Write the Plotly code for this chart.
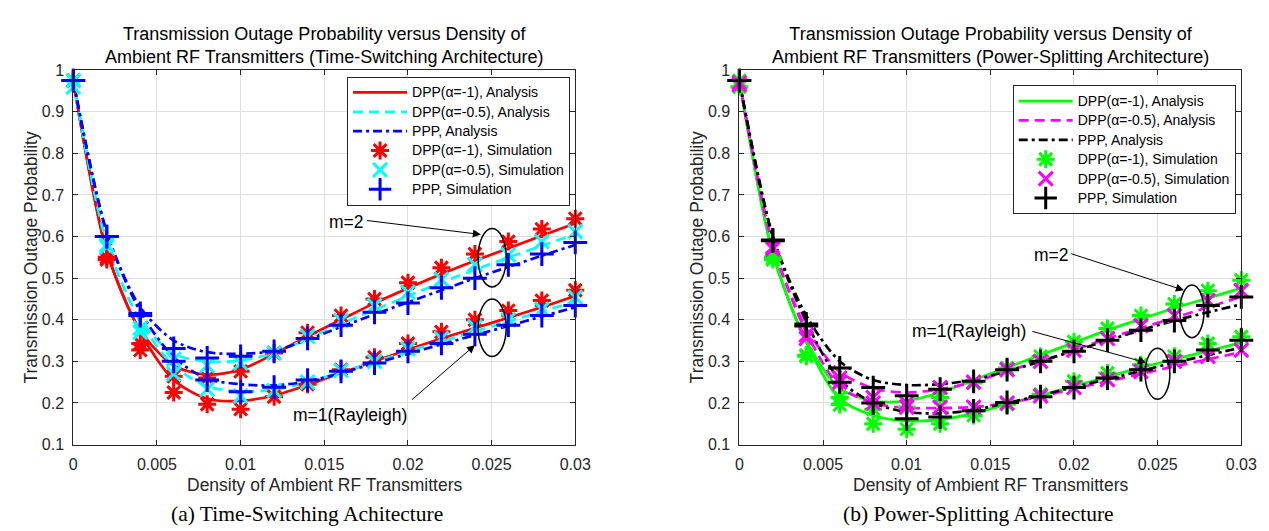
import plotly.graph_objects as go

# ---------------- data ----------------
density = [0.0, 0.002, 0.004, 0.006, 0.008, 0.010, 0.012, 0.014, 0.016,
           0.018, 0.020, 0.022, 0.024, 0.026, 0.028, 0.030]

x_ticks = [0, 0.005, 0.01, 0.015, 0.02, 0.025, 0.03]
x_tick_labels = ["0", "0.005", "0.01", "0.015", "0.02", "0.025", "0.03"]
y_ticks = [0.1, 0.2, 0.3, 0.4, 0.5, 0.6, 0.7, 0.8, 0.9, 1.0]
y_tick_labels = ["0.1", "0.2", "0.3", "0.4", "0.5", "0.6", "0.7", "0.8", "0.9", "1"]

# (a) Time-switching: analysis
ts_dpp1_ana_m2 = [0.975, 0.565, 0.375, 0.29, 0.268, 0.28, 0.318, 0.36, 0.40, 0.44, 0.476, 0.51, 0.542, 0.572, 0.602, 0.632]
ts_dpp1_ana_m1 = [0.975, 0.565, 0.37, 0.255, 0.21, 0.205, 0.218, 0.243, 0.272, 0.30, 0.328, 0.355, 0.38, 0.405, 0.43, 0.457]
ts_dpp05_ana_m2 = [0.975, 0.585, 0.40, 0.318, 0.30, 0.302, 0.32, 0.355, 0.39, 0.424, 0.457, 0.49, 0.52, 0.55, 0.578, 0.606]
ts_dpp05_ana_m1 = [0.975, 0.585, 0.395, 0.29, 0.24, 0.228, 0.232, 0.25, 0.274, 0.298, 0.324, 0.348, 0.372, 0.396, 0.42, 0.444]
ts_ppp_ana_m2 = [0.975, 0.61, 0.43, 0.35, 0.322, 0.318, 0.325, 0.352, 0.383, 0.413, 0.442, 0.471, 0.50, 0.527, 0.554, 0.58]
ts_ppp_ana_m1 = [0.975, 0.61, 0.42, 0.31, 0.258, 0.245, 0.242, 0.252, 0.272, 0.295, 0.318, 0.341, 0.363, 0.385, 0.408, 0.43]
# (a) Time-switching: simulation
ts_dpp1_sim_m2 = [0.975, 0.55, 0.343, 0.264, 0.26, 0.276, 0.32, 0.369, 0.41, 0.45, 0.489, 0.525, 0.558, 0.588, 0.618, 0.643]
ts_dpp1_sim_m1 = [0.975, 0.545, 0.327, 0.225, 0.197, 0.185, 0.215, 0.245, 0.28, 0.31, 0.343, 0.371, 0.40, 0.422, 0.446, 0.471]
ts_dpp05_sim_m2 = [0.975, 0.58, 0.38, 0.305, 0.29, 0.296, 0.32, 0.36, 0.398, 0.434, 0.466, 0.497, 0.533, 0.556, 0.588, 0.612]
ts_dpp05_sim_m1 = [0.96, 0.575, 0.37, 0.27, 0.233, 0.217, 0.23, 0.25, 0.278, 0.30, 0.33, 0.355, 0.383, 0.40, 0.425, 0.454]
ts_ppp_sim_m2 = [0.975, 0.60, 0.415, 0.331, 0.308, 0.312, 0.324, 0.355, 0.387, 0.418, 0.44, 0.477, 0.50, 0.532, 0.558, 0.586]
ts_ppp_sim_m1 = [0.975, 0.60, 0.41, 0.30, 0.255, 0.227, 0.238, 0.255, 0.276, 0.296, 0.324, 0.343, 0.365, 0.387, 0.41, 0.434]

# (b) Power-splitting: analysis
ps_dpp1_ana_m2 = [0.975, 0.56, 0.35, 0.235, 0.205, 0.205, 0.225, 0.255, 0.285, 0.315, 0.345, 0.375, 0.402, 0.428, 0.452, 0.476]
ps_dpp1_ana_m1 = [0.975, 0.56, 0.345, 0.21, 0.17, 0.157, 0.16, 0.175, 0.197, 0.218, 0.24, 0.263, 0.285, 0.305, 0.325, 0.345]
ps_dpp05_ana_m2 = [0.975, 0.58, 0.38, 0.275, 0.235, 0.225, 0.233, 0.25, 0.277, 0.30, 0.327, 0.355, 0.38, 0.405, 0.43, 0.455]
ps_dpp05_ana_m1 = [0.975, 0.58, 0.37, 0.24, 0.20, 0.188, 0.188, 0.19, 0.20, 0.215, 0.234, 0.252, 0.27, 0.288, 0.305, 0.322]
ps_ppp_ana_m2 = [0.975, 0.60, 0.41, 0.30, 0.255, 0.243, 0.245, 0.256, 0.276, 0.30, 0.325, 0.35, 0.375, 0.398, 0.418, 0.437]
ps_ppp_ana_m1 = [0.975, 0.60, 0.395, 0.255, 0.20, 0.178, 0.175, 0.183, 0.20, 0.218, 0.238, 0.257, 0.277, 0.297, 0.315, 0.333]
# (b) Power-splitting: simulation
ps_dpp1_sim_m2 = [0.975, 0.55, 0.315, 0.213, 0.185, 0.19, 0.213, 0.248, 0.284, 0.312, 0.347, 0.379, 0.41, 0.438, 0.47, 0.495]
ps_dpp1_sim_m1 = [0.96, 0.545, 0.312, 0.196, 0.15, 0.137, 0.15, 0.17, 0.197, 0.221, 0.252, 0.272, 0.292, 0.312, 0.343, 0.359]
ps_dpp05_sim_m2 = [0.97, 0.575, 0.363, 0.26, 0.213, 0.20, 0.237, 0.25, 0.28, 0.30, 0.327, 0.355, 0.386, 0.41, 0.446, 0.47]
ps_dpp05_sim_m1 = [0.965, 0.57, 0.355, 0.25, 0.20, 0.19, 0.19, 0.19, 0.20, 0.217, 0.237, 0.256, 0.276, 0.30, 0.312, 0.327]
ps_ppp_sim_m2 = [0.975, 0.592, 0.39, 0.284, 0.237, 0.217, 0.233, 0.252, 0.28, 0.30, 0.324, 0.351, 0.375, 0.398, 0.434, 0.455]
ps_ppp_sim_m1 = [0.975, 0.59, 0.385, 0.25, 0.20, 0.162, 0.166, 0.181, 0.201, 0.215, 0.237, 0.26, 0.28, 0.30, 0.327, 0.351]

legend_names = ["DPP(α=-1), Analysis", "DPP(α=-0.5), Analysis", "PPP, Analysis",
                "DPP(α=-1), Simulation", "DPP(α=-0.5), Simulation", "PPP, Simulation"]

# ---------------- styling ----------------
FONT = "Liberation Sans, Arial, Helvetica, sans-serif"
AX_COLOR = "#262626"
W, H = 1269, 531

# pixel layout of the two axes boxes
L_X0, L_X1 = 62.3, 572.3
R_X0, R_X1 = 739.0, 1249.0
Y_TOP, Y_BOT = 56.0, 442.7


def px(xp):
    return xp / W


def py(yp):
    return 1 - yp / H


def leg_text(s):
    # larger glyphs than the (compact) legend row height
    return f'<span style="font-size:14px">{s}</span>'


fig = go.Figure()

panels = [
    dict(xa="x", ya="y", legend="legend",
         colors=["#FF0000", "#00FFFF", "#0000FF"],
         ana=[(ts_dpp1_ana_m2, ts_dpp1_ana_m1), (ts_dpp05_ana_m2, ts_dpp05_ana_m1), (ts_ppp_ana_m2, ts_ppp_ana_m1)],
         sim=[(ts_dpp1_sim_m2, ts_dpp1_sim_m1), (ts_dpp05_sim_m2, ts_dpp05_sim_m1), (ts_ppp_sim_m2, ts_ppp_sim_m1)]),
    dict(xa="x2", ya="y2", legend="legend2",
         colors=["#00FF00", "#FF00FF", "#000000"],
         ana=[(ps_dpp1_ana_m2, ps_dpp1_ana_m1), (ps_dpp05_ana_m2, ps_dpp05_ana_m1), (ps_ppp_ana_m2, ps_ppp_ana_m1)],
         sim=[(ps_dpp1_sim_m2, ps_dpp1_sim_m1), (ps_dpp05_sim_m2, ps_dpp05_sim_m1), (ps_ppp_sim_m2, ps_ppp_sim_m1)]),
]

dashes = ["solid", "10px,6px", "9px,4px,3px,4px"]
symbols = ["asterisk-open", "x-thin-open", "cross-thin-open"]
msizes = [15, 14, 17]

for p_i, p in enumerate(panels):
    # analysis lines
    for k in range(3):
        for j, ys in enumerate(p["ana"][k]):
            fig.add_trace(go.Scatter(
                x=density, y=ys, mode="lines", xaxis=p["xa"], yaxis=p["ya"],
                line=dict(color=p["colors"][k], width=2.7, dash=dashes[k], shape="spline", smoothing=0.8),
                name=leg_text(legend_names[k]), legendgroup=f"p{p_i}a{k}", showlegend=(j == 0),
                legend=p["legend"], legendrank=k + 1, hoverinfo="skip"))
    # simulation markers
    for k in range(3):
        for j, ys in enumerate(p["sim"][k]):
            fig.add_trace(go.Scatter(
                x=density, y=ys, mode="markers", xaxis=p["xa"], yaxis=p["ya"],
                marker=dict(symbol=symbols[k], size=msizes[k], color=p["colors"][k],
                            line=dict(color=p["colors"][k], width=3)),
                name=leg_text(legend_names[3 + k]), legendgroup=f"p{p_i}s{k}", showlegend=(j == 0),
                legend=p["legend"], legendrank=4 + k, cliponaxis=False, hoverinfo="skip"))

axis_common = dict(showline=True, linecolor=AX_COLOR, linewidth=1, mirror="ticks",
                   ticks="inside", ticklen=5, tickcolor=AX_COLOR, showgrid=True,
                   gridcolor="#dedede", gridwidth=1, zeroline=False,
                   tickfont=dict(family=FONT, size=16, color=AX_COLOR), ticklabelstandoff=5)

legend_common = dict(xanchor="right", yanchor="top", bgcolor="white",
                     bordercolor=AX_COLOR, borderwidth=1, itemwidth=54, tracegroupgap=0,
                     font=dict(family=FONT, size=12.6, color="black"))

fig.update_layout(
    width=W, height=H, margin=dict(l=0, r=0, t=0, b=0),
    paper_bgcolor="white", plot_bgcolor="white",
    font=dict(family=FONT, color=AX_COLOR),
    xaxis=dict(domain=[px(L_X0), px(L_X1)], range=[0, 0.03], tickvals=x_ticks, ticktext=x_tick_labels, anchor="y", **axis_common),
    yaxis=dict(domain=[py(Y_BOT), py(Y_TOP)], range=[0.1, 1.0], tickvals=y_ticks, ticktext=y_tick_labels, anchor="x", **axis_common),
    xaxis2=dict(domain=[px(R_X0), px(R_X1)], range=[0, 0.03], tickvals=x_ticks, ticktext=x_tick_labels, anchor="y2", **axis_common),
    yaxis2=dict(domain=[py(Y_BOT), py(Y_TOP)], range=[0.1, 1.0], tickvals=y_ticks, ticktext=y_tick_labels, anchor="x2", **axis_common),
    legend=dict(x=px(567), y=py(62.7), **legend_common),
    legend2=dict(x=px(1243.3), y=py(71.7), **legend_common),
)

annotations = []
titles = [
    ("Transmission Outage Probability versus Density of<br>Ambient RF Transmitters (Time-Switching Architecture)", (L_X0 + L_X1) / 2),
    ("Transmission Outage Probability versus Density of<br>Ambient RF Transmitters (Power-Splitting Architecture)", (R_X0 + R_X1) / 2),
]
for t, cx in titles:
    annotations.append(dict(text=t, x=px(cx), y=py(30), xref="paper", yref="paper",
                            xanchor="center", yanchor="middle", showarrow=False,
                            font=dict(family=FONT, size=18, color="black")))
for cx in [(L_X0 + L_X1) / 2, (R_X0 + R_X1) / 2]:
    annotations.append(dict(text="Density of Ambient RF Transmitters", x=px(cx), y=py(484),
                            xref="paper", yref="paper", xanchor="center", yanchor="middle",
                            showarrow=False, font=dict(family=FONT, size=17.5, color=AX_COLOR)))
for cx in [19.5, 696]:
    annotations.append(dict(text="Transmission Outage Probability", x=px(cx), y=py((Y_TOP + Y_BOT) / 2),
                            xref="paper", yref="paper", xanchor="center", yanchor="middle",
                            textangle=-90, showarrow=False,
                            font=dict(family=FONT, size=17.5, color=AX_COLOR)))
for t, cx in [("(a) Time-Switching Achitecture", 300), ("(b) Power-Splitting Achitecture", 982)]:
    annotations.append(dict(text=t, x=px(cx), y=py(514), xref="paper", yref="paper",
                            xanchor="center", yanchor="middle", showarrow=False,
                            font=dict(family="Liberation Serif, Times New Roman, serif", size=21.5, color="black")))

# in-plot labels and arrows
labels = [
    ("x", "y", "m=2", 0.01632, 0.635, (0.01747, 0.639), (0.02436, 0.605)),
    ("x", "y", "m=1(Rayleigh)", 0.01651, 0.171, (0.02016, 0.205), (0.0240, 0.339)),
    ("x2", "y2", "m=2", 0.01867, 0.556, (0.01974, 0.56), (0.02657, 0.471)),
    ("x2", "y2", "m=1(Rayleigh)", 0.01375, 0.373, (0.01742, 0.373), (0.0243, 0.297)),
]
for xr, yr, t, tx, ty, tail, head in labels:
    annotations.append(dict(text=t, x=tx, y=ty, xref=xr, yref=yr, showarrow=False,
                            xanchor="center", yanchor="middle",
                            font=dict(family=FONT, size=17.5, color="black")))
    annotations.append(dict(text="", x=head[0], y=head[1], ax=tail[0], ay=tail[1],
                            xref=xr, yref=yr, axref=xr, ayref=yr, showarrow=True,
                            arrowhead=2, arrowsize=1.6, arrowwidth=1, arrowcolor="black"))
fig.update_layout(annotations=annotations)

ellipses = [
    ("x", "y", 0.02419, 0.02587, 0.479, 0.6195),
    ("x", "y", 0.02419, 0.02587, 0.3116, 0.4497),
    ("x2", "y2", 0.02633, 0.02777, 0.357, 0.4837),
    ("x2", "y2", 0.02425, 0.02573, 0.209, 0.3313),
]
for xr, yr, x0, x1, y0, y1 in ellipses:
    fig.add_shape(type="circle", xref=xr, yref=yr, x0=x0, x1=x1, y0=y0, y1=y1,
                  line=dict(color="black", width=1.5))

fig.write_html("out.html")
